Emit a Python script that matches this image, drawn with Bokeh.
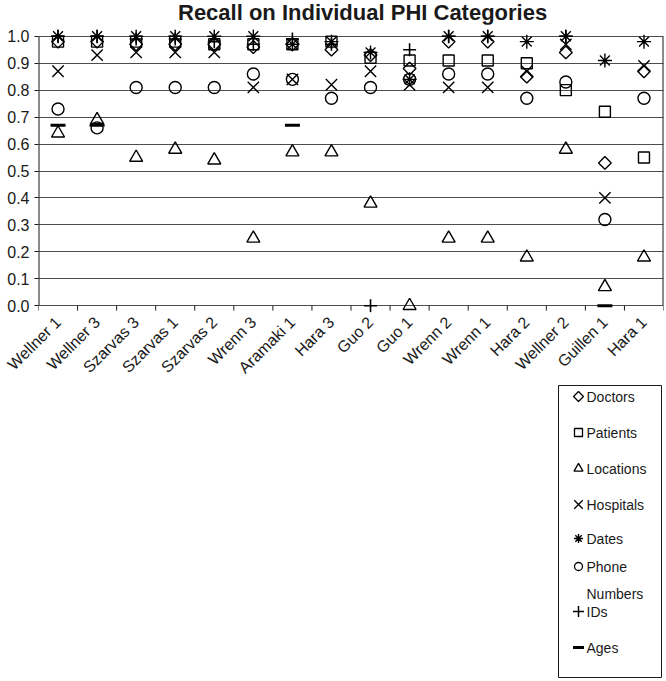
import math
from bokeh.plotting import figure
from bokeh.layouts import column, row
from bokeh.models import (FixedTicker, NumeralTickFormatter, Range1d, Spacer, Div)
from bokeh.core.properties import value
from bokeh.embed import file_html
from bokeh.resources import INLINE

nan = float("nan")

title_text = "Recall on Individual PHI Categories"

categories = ["Wellner 1", "Wellner 3", "Szarvas 3", "Szarvas 1", "Szarvas 2",
              "Wrenn 3", "Aramaki 1", "Hara 3", "Guo 2", "Guo 1", "Wrenn 2",
              "Wrenn 1", "Hara 2", "Wellner 2", "Guillen 1", "Hara 1"]

doctors   = [0.98, 0.98, 0.97, 0.97, 0.97, 0.96, 0.97, 0.95, 0.93, 0.88, 0.98, 0.98, 0.85, 0.94, 0.53, 0.87]
patients  = [0.98, 0.98, 0.98, 0.98, 0.97, 0.97, 0.97, 0.98, 0.92, 0.91, 0.91, 0.91, 0.90, 0.80, 0.72, 0.55]
locations = [0.64, 0.69, 0.55, 0.58, 0.54, 0.25, 0.57, 0.57, 0.38, 0.00, 0.25, 0.25, 0.18, 0.58, 0.07, 0.18]
hospitals = [0.87, 0.93, 0.94, 0.94, 0.94, 0.81, 0.84, 0.82, 0.87, 0.82, 0.81, 0.81, 0.87, 0.97, 0.40, 0.89]
dates     = [1.00, 1.00, 1.00, 1.00, 1.00, 1.00, 0.97, 0.98, 0.94, 0.84, 1.00, 1.00, 0.98, 1.00, 0.91, 0.98]
phone     = [0.73, 0.66, 0.81, 0.81, 0.81, 0.86, 0.84, 0.77, 0.81, 0.84, 0.86, 0.86, 0.77, 0.83, 0.32, 0.77]
ids       = [1.00, 1.00, 0.99, 0.99, 0.98, 0.97, 0.99, 0.97, 0.00, 0.95, 1.00, 1.00, nan, 1.00, nan, nan]
ages      = [0.67, 0.67, nan, nan, nan, nan, 0.67, nan, nan, nan, nan, nan, nan, nan, 0.00, nan]

series_labels = ["Doctors", "Patients", "Locations", "Hospitals", "Dates",
                 "Phone\nNumbers", "IDs", "Ages"]

y_ticks = [0.0, 0.1, 0.2, 0.3, 0.4, 0.5, 0.6, 0.7, 0.8, 0.9, 1.0]

n = len(categories)
xc = [i + 0.5 for i in range(n)]
bounds = list(range(n + 1))
FONT = "Liberation Sans"
INK = "#1a1a1a"

# ---------------- title ----------------
TITLE_H = 24
title = Div(text=title_text, width=666, height=TITLE_H, margin=(0, 0, 0, 0),
            styles={"font-family": FONT, "font-weight": "bold", "font-size": "22px",
                    "line-height": "25px", "color": INK, "padding-left": "178px",
                    "white-space": "nowrap"})

# ---------------- main chart ----------------
p = figure(width=666, height=385 - TITLE_H, output_backend="svg", toolbar_location=None,
           x_range=Range1d(0, n), y_range=Range1d(-0.025, 1.025),
           min_border_left=38, min_border_right=3, min_border_top=29 - TITLE_H,
           min_border_bottom=71)

p.background_fill_color = "white"
p.border_fill_color = "white"
p.outline_line_color = None

p.xgrid.visible = False
p.ygrid.ticker = FixedTicker(ticks=y_ticks)
p.ygrid.grid_line_color = "#4d4d4d"
p.ygrid.grid_line_width = 1

p.yaxis.ticker = FixedTicker(ticks=y_ticks)
p.yaxis.formatter = NumeralTickFormatter(format="0.0")
p.yaxis.major_label_text_font = FONT
p.yaxis.major_label_text_font_size = "16px"
p.yaxis.major_label_text_color = INK
p.yaxis.major_tick_out = 4
p.yaxis.major_tick_in = 0
p.yaxis.major_tick_line_color = INK
p.yaxis.minor_tick_line_color = None
p.yaxis.axis_line_color = None
p.yaxis.major_label_standoff = 5

p.xaxis.ticker = FixedTicker(ticks=xc)
p.xaxis.major_label_overrides = {x: c for x, c in zip(xc, categories)}
p.xaxis.major_label_orientation = math.pi / 4
p.xaxis.major_label_text_font = FONT
p.xaxis.major_label_text_font_size = "16px"
p.xaxis.major_label_text_color = INK
p.xaxis.major_tick_line_color = None
p.xaxis.minor_tick_line_color = None
p.xaxis.axis_line_color = None
p.xaxis.major_label_standoff = 1

# frame lines: left axis, right border, category boundary ticks
p.segment(x0=[0, n], y0=[0, 0], x1=[0, n], y1=[1.0, 1.0], line_color=INK, line_width=2)
p.segment(x0=bounds, y0=[0] * len(bounds), x1=bounds, y1=[-0.018] * len(bounds),
          line_color=INK, line_width=1)

style = dict(fill_color=None, line_color="black", line_width=1.4)
p.scatter(xc, doctors, marker="square", angle=math.pi / 4, size=9, **style)
p.scatter(xc, patients, marker="square", size=11, **style)
p.scatter(xc, locations, marker="triangle", size=13, **style)
p.scatter(xc, hospitals, marker="x", size=16, **style)
p.scatter(xc, dates, marker="asterisk", size=14, **style)
p.scatter(xc, phone, marker="circle", size=12, **style)
p.scatter(xc, ids, marker="cross", size=13, fill_color=None, line_color="black", line_width=1.6)
p.scatter(xc, ages, marker="dash", size=15, fill_color=None, line_color="black", line_width=3)

# ---------------- legend box ----------------
LW, LH = 104, 293
lg = figure(width=LW, height=LH, output_backend="svg", toolbar_location=None,
            x_range=Range1d(0, LW), y_range=Range1d(LH, 0),
            min_border=0, min_border_left=0, min_border_right=0,
            min_border_top=0, min_border_bottom=0)
lg.axis.visible = False
lg.grid.visible = False
lg.outline_line_color = INK
lg.outline_line_width = 1
lg.background_fill_color = "white"
lg.border_fill_color = "white"

mk_x = 20
tx_x = 28
item_y = [11, 47, 83, 119, 153, 181, 226, 262]
markers = ["square", "square", "triangle", "x", "asterisk", "circle", "cross", "dash"]
msizes = [7, 8, 9, 12, 9, 8, 11, 11]
angles = [math.pi / 4, 0, 0, 0, 0, 0, 0, 0]
lwidths = [1.3, 1.3, 1.3, 1.4, 1.4, 1.3, 1.5, 3]
for mk, yy, sz, an, lw in zip(markers, item_y, msizes, angles, lwidths):
    lg.scatter([mk_x], [yy], marker=mk, size=sz, angle=an, fill_color=None,
               line_color="black", line_width=lw)

lg.text(x=[tx_x] * len(series_labels), y=[yy - 8 for yy in item_y], text=series_labels,
        text_font=value(FONT), text_font_size="14px", text_color=INK,
        text_baseline="top", text_align="left", text_line_height=1.72)

layout = column(title, p, row(Spacer(width=558, height=LH), lg), spacing=0)

open("out.html", "w").write(file_html(layout, INLINE))
